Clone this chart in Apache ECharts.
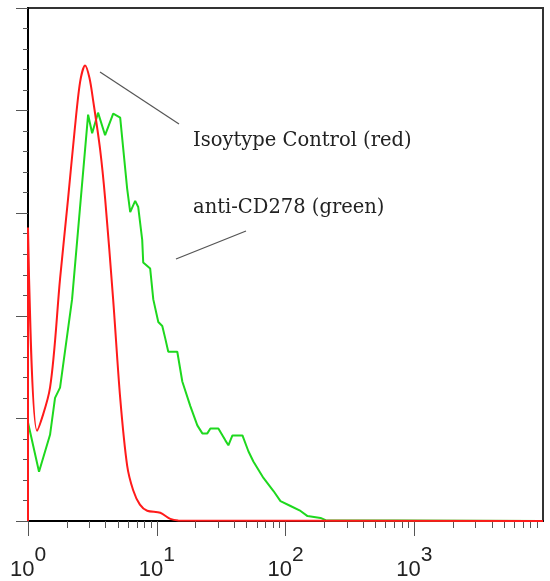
<!DOCTYPE html>
<html>
<head>
<meta charset="utf-8">
<script src="https://cdn.jsdelivr.net/npm/echarts@6/dist/echarts.min.js"></script>
<style>
html,body{margin:0;padding:0;background:#fff;}
#chart{width:550px;height:581px;}
</style>
</head>
<body>
<div id="chart"></div>
<script>
// Isotype control (red): [fluorescence, count]
const redSeries = [
  [1, 0], [1, 143], [1.175, 44], [1.483, 65], [1.774, 118], [2.047, 157],
  [2.3, 190], [2.54, 214], [2.777, 222], [3.0, 216], [3.205, 205], [3.633, 181],
  [3.974, 157], [4.585, 108], [5.2, 60], [5.89, 27], [6.56, 15], [7.4, 8],
  [8.43, 5], [10.65, 4], [12.74, 1], [14.7, 0.3], [10000, 0]
];
// anti-CD278 (green): [fluorescence, count]
const greenSeries = [
  [1, 0], [1, 48], [1.218, 24], [1.483, 42], [1.622, 60], [1.774, 65],
  [2.199, 108], [2.57, 157], [2.93, 198], [3.15, 189], [3.5, 199], [3.97, 188],
  [4.59, 198.5], [5.2, 196.6], [5.89, 162], [6.22, 150.5], [6.8, 156], [7.18, 153],
  [7.71, 137], [7.85, 126], [8.89, 123], [9.4, 108], [10.28, 97], [11.04, 95],
  [11.64, 89], [12.29, 82.5], [14.44, 82.5], [15.79, 68], [18.23, 56], [20.66, 46.6],
  [22.6, 42.7], [24.7, 42.7], [26.1, 45.1], [30.1, 45.1], [34.1, 39.3], [36.0, 36.9],
  [38.7, 41.7], [46.3, 41.7], [51.5, 34], [56.3, 29], [67.4, 21], [80.7, 14.6],
  [91.4, 9.7], [109.4, 7.3], [130.9, 4.9], [148.3, 2.4], [187.1, 1.5], [204.8, 0.4],
  [10000, 0]
];
const majorTicks = [1, 10, 100, 1000];
const majorLabels = ['0', '1', '2', '3'];
const minorTicks = [2,3,4,5,6,7,8,9, 20,30,40,50,60,70,80,90, 200,300,400,500,600,700,800,900, 2000,3000,4000,5000,6000,7000,8000,9000];
const annotations = ['Isoytype Control (red)', 'anti-CD278 (green)'];

const chart = echarts.init(document.getElementById('chart'), null, {renderer: 'canvas'});
chart.setOption({
  animation: false,
  backgroundColor: '#fff',
  grid: {left: 28, right: 7, top: 8, bottom: 58, show: true, borderColor: '#333', borderWidth: 2, backgroundColor: 'transparent'},
  xAxis: [{
    type: 'log', logBase: 10, min: 1, max: 10000, position: 'bottom',
    axisLine: {show: true, lineStyle: {color: '#000', width: 2}},
    axisTick: {show: true, customValues: majorTicks, length: 15, lineStyle: {color: '#555', width: 1}},
    minorTick: {show: false},
    splitLine: {show: false},
    axisLabel: {
      show: true, customValues: majorTicks, margin: 24,
      formatter: function (v) {
        const i = majorTicks.indexOf(Math.round(v));
        return i < 0 ? '' : '{b|10}{s|' + majorLabels[i] + '}';
      },
      rich: {
        b: {fontFamily: 'Liberation Sans', fontSize: 22, color: '#222', verticalAlign: 'bottom'},
        s: {fontFamily: 'Liberation Sans', fontSize: 21, color: '#222', padding: [0, 0, 15, 0], verticalAlign: 'bottom'}
      }
    }
  }, {
    type: 'log', logBase: 10, min: 1, max: 10000, position: 'bottom',
    axisLine: {show: false},
    axisTick: {show: true, customValues: minorTicks, length: 7, lineStyle: {color: '#555', width: 1}},
    axisLabel: {show: false},
    splitLine: {show: false}
  }],
  yAxis: {
    type: 'value', min: 0, max: 250, interval: 50,
    axisLine: {show: true, lineStyle: {color: '#000', width: 2}},
    axisTick: {show: true, length: 12, lineStyle: {color: '#555', width: 1}},
    minorTick: {show: true, splitNumber: 5, length: 5, lineStyle: {color: '#555', width: 1}},
    axisLabel: {show: false},
    splitLine: {show: false}
  },
  series: [{
    type: 'line', name: annotations[1], data: greenSeries, showSymbol: false, symbol: 'none',
    lineStyle: {color: '#1ed81e', width: 2}, xAxisIndex: 0, z: 3
  }, {
    type: 'line', name: annotations[0], data: redSeries, showSymbol: false, symbol: 'none', smooth: 0.3,
    lineStyle: {color: '#ff1a1a', width: 2}, xAxisIndex: 0, z: 4
  }],
  graphic: [
    {type: 'line', shape: {x1: 100, y1: 72, x2: 179, y2: 124}, style: {stroke: '#555', lineWidth: 1.2}},
    {type: 'line', shape: {x1: 176, y1: 259, x2: 246, y2: 231}, style: {stroke: '#555', lineWidth: 1.2}},
    {type: 'text', left: 193, top: 131, style: {text: annotations[0], font: '19.5px "DejaVu Serif"', fill: '#222'}},
    {type: 'text', left: 193, top: 198, style: {text: annotations[1], font: '19.5px "DejaVu Serif"', fill: '#222'}}
  ]
});
</script>
</body>
</html>
